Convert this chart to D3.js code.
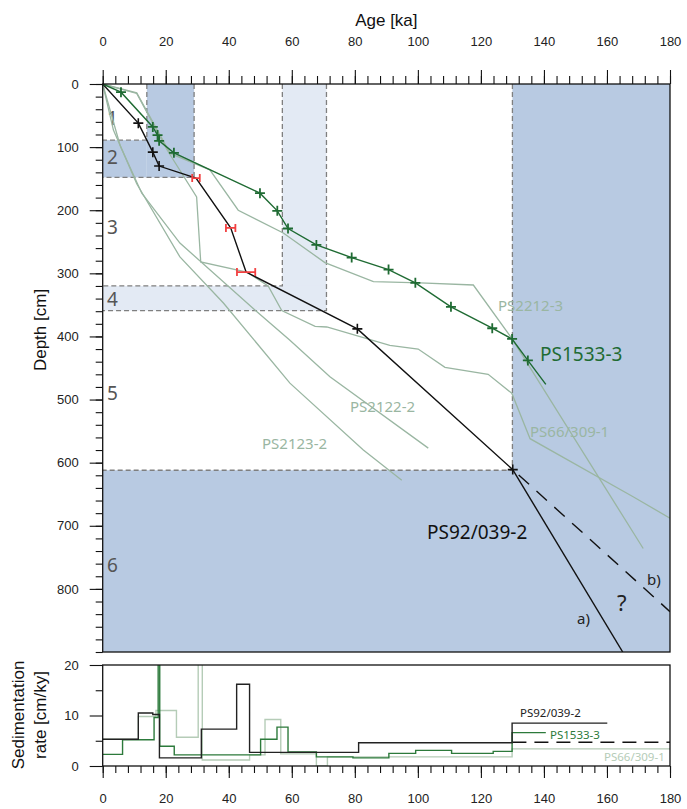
<!DOCTYPE html>
<html lang="en">
<head>
<meta charset="utf-8" />
<script src="https://d3js.org/d3.v7.min.js"></script>
<style>
  body { margin: 0; background: #fff; }
  svg text { font-family: "Liberation Sans", Arial, sans-serif; }
  .lbl { font-family: "Noto Sans", "Open Sans", sans-serif; }
</style>
</head>
<body>
<div id="chart"></div>
<script>
// ---- data ----
// PS92/039-2 age points
const ps92Age   = [0, 11.3, 15.9, 17.9, 29.6, 40.6, 45.5, 80.8, 130.1];
const ps92Depth = [0, 62, 108, 130, 149, 228, 298, 388, 611];
const ps92Err   = [0, 0, 0, 0, 1.2, 1.5, 2.9, 0, 0];   // red error bars (ka)
const extrapA = [[130.1, 611], [165, 900]];
const extrapB = [[130.1, 611], [180, 836]];

// PS1533-3
const ps1533Age   = [0, 5.8, 15.9, 17.4, 17.9, 22.6, 49.9, 55.4, 58.8, 67.8, 79.0, 90.7, 99.2, 110.5, 123.6, 129.9, 134.9, 140.6];
const ps1533Depth = [0, 13, 68, 81, 90, 109, 173, 201, 229, 255, 275, 294, 315, 353, 387, 404, 438, 476];

// other cores (grey)
const ps2212Age   = [0, 10.8, 21.4, 34, 43, 57.3, 70.5, 85.9, 100.7, 117.6, 129.8, 171.5];
const ps2212Depth = [0, 14, 110, 136, 200, 236, 283, 313, 315, 318.5, 403, 736];
const ps66Age   = [0, 10.8, 20.5, 29.8, 31.1, 45.7, 52.5, 56.8, 67.4, 71.1, 91.1, 100.1, 108.6, 122.3, 129.8, 135.6, 168.3, 180];
const ps66Depth = [0, 15, 105, 179, 282, 298, 320, 359, 384, 385, 414, 420, 449, 460, 490, 562, 654, 688];
const ps2122Age   = [0, 5.5, 12.4, 24.5, 48.3, 59.4, 72.1, 103.3];
const ps2122Depth = [0, 97, 173, 252, 358, 406, 464, 577];
const ps2123Age   = [0, 3.4, 10.8, 24.5, 38.3, 59.4, 82.7, 94.9];
const ps2123Depth = [0, 73, 158, 274, 347, 474, 580, 628];

// marine isotope stage boxes: [age0, age1, depth0, depth1, stage]
const stageBoxes = [
  [14, 29, 0, 148, 2], [0, 14, 89, 148, 2],
  [57, 71, 0, 359, 4], [0, 71, 320, 359, 4],
  [130, 180, 0, 900, 6], [0, 180, 612, 900, 6]
];
const stageEdges = [
  [[14, 0], [14, 89], [0, 89]], [[29, 0], [29, 148], [0, 148]],
  [[57, 0], [57, 320], [0, 320]], [[71, 0], [71, 359], [0, 359]],
  [[130, 0], [130, 612], [0, 612]]
];
const stageLabels = ["1", "2", "3", "4", "5", "6"];
const stageLabelDepth = [54, 116, 226, 341, 489, 762];

// sedimentation rates (step series)
const rate92Age = [0, 11.3, 15.9, 18.0, 31.3, 42.5, 46.6, 81.2, 129.9, 160.1];
const rate92Val = [5.3, 10.5, 10.2, 1.6, 7.3, 16.2, 2.7, 4.6, 8.5];
const rate1533Age = [0, 6.3, 16.3, 17.6, 18.1, 22.7, 50.1, 55.3, 58.8, 67.8, 79.4, 90.8, 99.3, 110.7, 123.9, 129.9, 140.6];
const rate1533Val = [2.3, 5.2, 9.6, 25, 3.9, 2.2, 5.3, 7.7, 2.8, 1.8, 1.6, 2.5, 3.1, 2.5, 2.9, 6.6];
const rate66Age = [0, 11.3, 16.9, 23.4, 30.3, 31.6, 46.6, 51.5, 56.5, 67.8, 71.3, 129.9, 180];
const rate66Val = [5.3, 9.8, 11.0, 5.7, 25, 1.2, 2.2, 9.2, 2.4, 0, 1.8, 3.4];
const rateDashed = [[130, 4.7], [180, 4.7]];

// ---- layout ----
const W = 687, H = 809;
const left = 102.7, right = 670;
const topY0 = 84, topY1 = 652;
const botY0 = 665, botY1 = 766;

const svg = d3.select('#chart').append('svg').attr('width', W).attr('height', H);

const x = d3.scaleLinear().domain([0, 180]).range([left, right]);
const y = d3.scaleLinear().domain([0, 900]).range([topY0, topY1]);
const yr = d3.scaleLinear().domain([0, 20]).range([botY1, botY0]);

const dark = '#b8cae2', light = '#e3eaf4';
const grey = '#9ab6a2', green = '#1f6b33', red = '#f24040';

// clip
svg.append('clipPath').attr('id', 'clipTop').append('rect')
  .attr('x', left).attr('y', topY0).attr('width', right - left).attr('height', topY1 - topY0);
svg.append('clipPath').attr('id', 'clipBot').append('rect')
  .attr('x', left).attr('y', botY0).attr('width', right - left).attr('height', botY1 - botY0);

const gTop = svg.append('g').attr('clip-path', 'url(#clipTop)');

gTop.selectAll('rect.stage').data(stageBoxes).enter().append('rect')
  .attr('class', 'stage')
  .attr('x', d => x(d[0])).attr('y', d => y(d[2]))
  .attr('width', d => x(d[1]) - x(d[0])).attr('height', d => y(d[3]) - y(d[2]))
  .attr('fill', d => d[4] === 4 ? light : dark);

const line = d3.line().x(d => x(d[0])).y(d => y(d[1]));

gTop.selectAll('path.edge').data(stageEdges).enter().append('path')
  .attr('d', line).attr('fill', 'none')
  .attr('stroke', '#7f7f7f').attr('stroke-width', 1.3).attr('stroke-dasharray', '5,3');

gTop.selectAll('text.stage').data(stageLabels).enter().append('text')
  .attr('class', 'lbl')
  .attr('x', 107).attr('y', (d, i) => y(stageLabelDepth[i]) + 7)
  .attr('font-size', 19).attr('fill', '#555').text(d => d);

const zip = (a, b) => a.map((v, i) => [v, b[i]]);

// grey cores
[[ps2212Age, ps2212Depth], [ps66Age, ps66Depth], [ps2122Age, ps2122Depth], [ps2123Age, ps2123Depth]]
  .forEach(([a, d]) => {
    gTop.append('path').attr('d', line(zip(a, d))).attr('fill', 'none')
      .attr('stroke', grey).attr('stroke-width', 1.3);
  });

// PS92 extrapolation
gTop.append('path').attr('d', line(extrapA)).attr('fill', 'none').attr('stroke', '#111').attr('stroke-width', 1.4);
gTop.append('path').attr('d', line(extrapB)).attr('fill', 'none').attr('stroke', '#111')
  .attr('stroke-width', 1.4).attr('stroke-dasharray', '14,10').attr('stroke-dashoffset', -8);

// PS92 main
const p92 = zip(ps92Age, ps92Depth);
gTop.append('path').attr('d', line(p92)).attr('fill', 'none').attr('stroke', '#111').attr('stroke-width', 1.4);

// PS1533
const p1533 = zip(ps1533Age, ps1533Depth);
gTop.append('path').attr('d', line(p1533)).attr('fill', 'none').attr('stroke', green).attr('stroke-width', 1.4);

const plus = 'M-5,0H5M0,-5V5';
gTop.selectAll('path.m1533').data(p1533.slice(1, -1)).enter().append('path')
  .attr('d', plus).attr('transform', d => `translate(${x(d[0])},${y(d[1])})`)
  .attr('stroke', green).attr('stroke-width', 1.8);

const p92m = ps92Age.map((a, i) => [a, ps92Depth[i], ps92Err[i]]);
gTop.selectAll('path.m92').data(p92m.filter((d, i) => i > 0 && d[2] === 0)).enter().append('path')
  .attr('d', plus).attr('transform', d => `translate(${x(d[0])},${y(d[1])})`)
  .attr('stroke', '#111').attr('stroke-width', 1.6);

const errs = gTop.selectAll('g.err').data(p92m.filter(d => d[2] > 0)).enter().append('g')
  .attr('stroke', red).attr('stroke-width', 1.8);
errs.append('line').attr('x1', d => x(d[0] - d[2])).attr('x2', d => x(d[0] + d[2]))
  .attr('y1', d => y(d[1])).attr('y2', d => y(d[1]));
errs.append('line').attr('x1', d => x(d[0] - d[2])).attr('x2', d => x(d[0] - d[2]))
  .attr('y1', d => y(d[1]) - 4).attr('y2', d => y(d[1]) + 4);
errs.append('line').attr('x1', d => x(d[0] + d[2])).attr('x2', d => x(d[0] + d[2]))
  .attr('y1', d => y(d[1]) - 4).attr('y2', d => y(d[1]) + 4);

// labels top panel
const topLabels = [
  ['PS2212-3', 498, 311, 15, grey],
  ['PS2122-2', 350, 412, 15, grey],
  ['PS2123-2', 262, 449, 15, grey],
  ['PS66/309-1', 530, 437, 15, grey],
  ['PS1533-3', 540, 361, 19, green],
  ['PS92/039-2', 427, 539, 19, '#111'],
  ['a)', 577, 624, 15, '#222'],
  ['?', 617, 611, 22, '#222'],
  ['b)', 647, 585, 15, '#222']
];
svg.selectAll('text.tl').data(topLabels).enter().append('text')
  .attr('class', 'lbl').attr('x', d => d[1]).attr('y', d => d[2])
  .attr('font-size', d => d[3]).attr('fill', d => d[4]).text(d => d[0]);

// frame top
svg.append('rect').attr('x', left).attr('y', topY0).attr('width', right - left).attr('height', topY1 - topY0)
  .attr('fill', 'none').attr('stroke', '#111').attr('stroke-width', 1.3);

// axes top
const maj20 = d3.range(0, 181, 20), min4 = d3.range(0, 181, 4);
const gxTop = svg.append('g').attr('transform', `translate(0,${topY0})`);
gxTop.call(d3.axisTop(x).tickValues(min4).tickSize(8).tickFormat(''));
gxTop.append('g').call(d3.axisTop(x).tickValues(maj20).tickSize(14).tickPadding(24));

const gyTop = svg.append('g').attr('transform', `translate(${left},0)`);
gyTop.call(d3.axisLeft(y).tickValues(d3.range(0, 901, 20)).tickSize(7).tickFormat(''));
gyTop.append('g').call(d3.axisLeft(y).tickValues(d3.range(0, 801, 100)).tickSize(13).tickPadding(11));

// bottom panel
const gBot = svg.append('g').attr('clip-path', 'url(#clipBot)');
const sline = d3.line().x(d => x(d[0])).y(d => yr(d[1])).curve(d3.curveStepAfter);
const steps = (a, v) => a.map((t, i) => [t, i < v.length ? v[i] : v[v.length - 1]]);

gBot.append('path').attr('d', sline(steps(rate66Age, rate66Val))).attr('fill', 'none')
  .attr('stroke', '#b5ccb7').attr('stroke-width', 1.4);
gBot.append('path').attr('d', sline(rateDashed)).attr('fill', 'none')
  .attr('stroke', '#111').attr('stroke-width', 1.3).attr('stroke-dasharray', '14,8');
gBot.append('path').attr('d', sline(steps(rate1533Age, rate1533Val))).attr('fill', 'none')
  .attr('stroke', '#2c7a3b').attr('stroke-width', 1.4);
gBot.append('path').attr('d', sline(steps(rate92Age, rate92Val))).attr('fill', 'none')
  .attr('stroke', '#222').attr('stroke-width', 1.4);

const botLabels = [
  ['PS92/039-2', 520, 717, '#222'],
  ['PS1533-3', 550, 739, '#2c7a3b'],
  ['PS66/309-1', 604, 761, '#b5ccb7']
];
svg.selectAll('text.bl').data(botLabels).enter().append('text')
  .attr('class', 'lbl').attr('x', d => d[1]).attr('y', d => d[2])
  .attr('font-size', 11.5).attr('fill', d => d[3]).text(d => d[0]);

svg.append('rect').attr('x', left).attr('y', botY0).attr('width', right - left).attr('height', botY1 - botY0)
  .attr('fill', 'none').attr('stroke', '#111').attr('stroke-width', 1.3);

const gyBot = svg.append('g').attr('transform', `translate(${left},0)`);
gyBot.call(d3.axisLeft(yr).tickValues([5, 15]).tickSize(7).tickFormat(''));
gyBot.append('g').call(d3.axisLeft(yr).tickValues([0, 10, 20]).tickSize(13).tickPadding(11));

const gxBot = svg.append('g').attr('transform', `translate(0,${botY1})`);
gxBot.call(d3.axisBottom(x).tickValues(min4).tickSize(7).tickFormat(''));
gxBot.append('g').call(d3.axisBottom(x).tickValues(maj20).tickSize(12).tickPadding(16));

svg.selectAll('.domain').remove();
svg.selectAll('.tick line').attr('stroke', '#111').attr('stroke-width', 1.1);
svg.selectAll('.tick text').attr('font-size', 13).attr('fill', '#222')
  .attr('font-family', '"Liberation Sans", Arial, sans-serif');

// axis titles
svg.append('text').attr('x', (left + right) / 2).attr('y', 26).attr('text-anchor', 'middle')
  .attr('font-size', 17).attr('fill', '#111').text('Age [ka]');
svg.append('text').attr('transform', 'translate(46,330) rotate(-90)').attr('text-anchor', 'middle')
  .attr('font-size', 17).attr('fill', '#111').text('Depth [cm]');
svg.append('text').attr('transform', 'translate(24,715) rotate(-90)').attr('text-anchor', 'middle')
  .attr('font-size', 17).attr('fill', '#111').text('Sedimentation');
svg.append('text').attr('transform', 'translate(46,715) rotate(-90)').attr('text-anchor', 'middle')
  .attr('font-size', 17).attr('fill', '#111').text('rate [cm/ky]');
</script>
</body>
</html>
